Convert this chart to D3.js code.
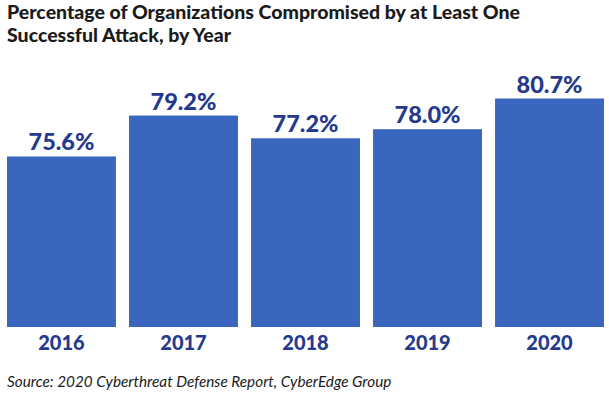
<!DOCTYPE html>
<html>
<head>
<meta charset="utf-8">
<script src="https://cdn.jsdelivr.net/npm/d3@7"></script>
<style>
  body { margin: 0; background: #fff; }
  svg { display: block; }
</style>
</head>
<body>
<svg id="chart" width="609" height="396"></svg>
<script>
// data
var years = ["2016", "2017", "2018", "2019", "2020"];
var values = [75.6, 79.2, 77.2, 78.0, 80.7];
var labels = ["75.6%", "79.2%", "77.2%", "78.0%", "80.7%"];
var titleLines = ["Percentage of Organizations Compromised by at Least One", "Successful Attack, by Year"];
var source = "Source: 2020 Cyberthreat Defense Report, CyberEdge Group";

var svg = d3.select("#chart");
var barColor = "#3a66bf", navy = "#253a8c";

var x = d3.scaleBand()
    .domain(years)
    .range([7, 604])
    .paddingInner(0.107)
    .paddingOuter(0);

// the chart does not start at zero
var y = d3.scaleLinear()
    .domain([60.6, 80.7])
    .range([327, 98.5]);

// title
svg.selectAll("text.title")
    .data(titleLines)
    .enter().append("text")
    .attr("class", "title")
    .attr("x", 7)
    .attr("y", function (d, i) { return 19 + i * 23; })
    .style("font", "900 19.5px Lato, sans-serif")
    .style("fill", "#1b1b1b")
    .text(function (d) { return d; });

// bars
svg.selectAll("rect.bar")
    .data(values)
    .enter().append("rect")
    .attr("class", "bar")
    .attr("x", function (d, i) { return x(years[i]); })
    .attr("y", function (d) { return y(d); })
    .attr("width", x.bandwidth())
    .attr("height", function (d) { return y.range()[0] - y(d); })
    .attr("fill", barColor);

// value labels
svg.selectAll("text.value")
    .data(values)
    .enter().append("text")
    .attr("class", "value")
    .attr("x", function (d, i) { return x(years[i]) + x.bandwidth() / 2; })
    .attr("y", function (d) { return y(d) - 6; })
    .attr("text-anchor", "middle")
    .style("font", "900 23.5px Lato, sans-serif")
    .style("fill", navy)
    .text(function (d, i) { return labels[i]; });

// year axis
var axis = svg.append("g")
    .attr("transform", "translate(0," + y.range()[0] + ")")
    .call(d3.axisBottom(x).tickSize(0).tickPadding(9));
axis.select(".domain").remove();
axis.selectAll("text")
    .attr("dy", "0.71em")
    .style("font", "900 20px Lato, sans-serif")
    .style("fill", navy);

// source note
svg.append("text")
    .attr("x", 7)
    .attr("y", 387)
    .style("font", "italic 15.3px Lato, sans-serif")
    .style("fill", "#1b1b1b")
    .text(source);
</script>
</body>
</html>
